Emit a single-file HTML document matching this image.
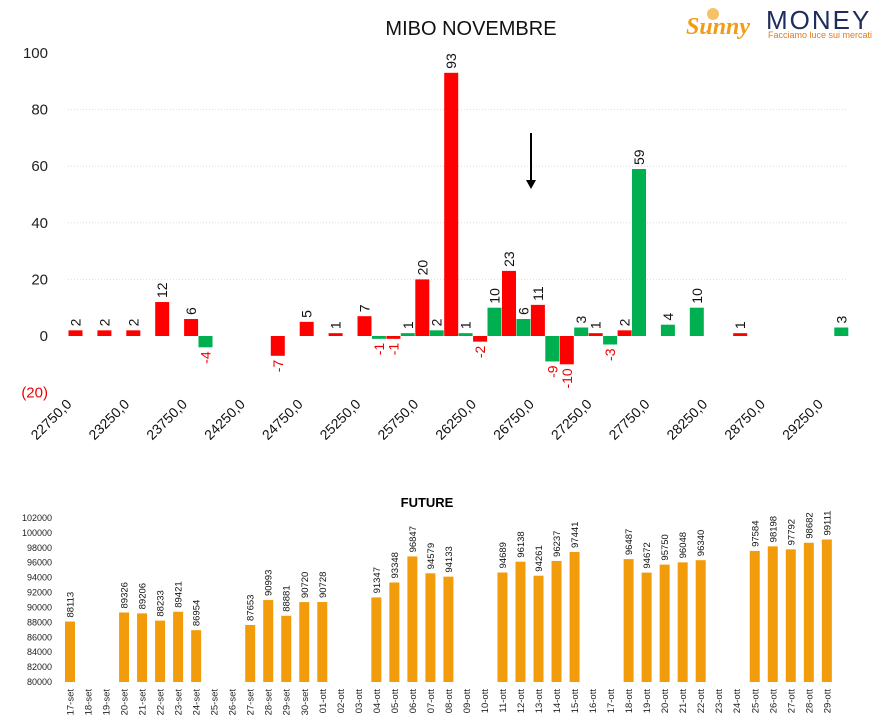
<!DOCTYPE html>
<html><head><meta charset="utf-8">
<style>
body{margin:0;background:#fff;}
svg{display:block;font-family:"Liberation Sans","DejaVu Sans",sans-serif;}
</style></head>
<body>
<svg id="c" width="887" height="724" viewBox="0 0 887 724" xmlns="http://www.w3.org/2000/svg">
<text x="471" y="35" font-size="20" text-anchor="middle" fill="#111">MIBO NOVEMBRE</text>
<g>
<circle cx="713" cy="14" r="6" fill="#f5a623" opacity="0.7"/>
<text x="686" y="34" font-size="24" font-style="italic" font-weight="bold" fill="#f39c12" font-family="Liberation Serif,serif">Sunny</text>
<text x="766" y="29" font-size="26" fill="#1f2d5c" letter-spacing="2">MONEY</text>
<text x="768" y="38" font-size="9" fill="#e07b1a">Facciamo luce sui mercati</text>
</g>
<g id="topg"></g>
<g id="botg"></g>
<text x="427" y="507" font-size="13" font-weight="bold" text-anchor="middle" fill="#000">FUTURE</text>
<g>
<line x1="531" y1="133" x2="531" y2="182" stroke="#000" stroke-width="2"/>
<polygon points="526,180 536,180 531,189" fill="#000"/>
</g>
</svg>
<script>
// ---- top chart data ----
const strikes = [22750,23000,23250,23500,23750,24000,24250,24500,24750,25000,25250,25500,25750,26000,26250,26500,26750,27000,27250,27500,27750,28000,28250,28500,28750,29000,29250,29500];
const greenVals = [null,null,null,null,null,-4,null,null,null,null,null,-1,1,2,1,10,6,-9,3,-3,59,4,10,null,null,null,null,3];
const redVals = [2,2,2,12,6,null,null,-7,5,1,7,-1,20,93,-2,23,11,-10,1,2,null,null,null,1,null,null,null,null];
const yTicks = [100,80,60,40,20,0,-20];
// ---- bottom chart data ----
const dates = ["17-set","18-set","19-set","20-set","21-set","22-set","23-set","24-set","25-set","26-set","27-set","28-set","29-set","30-set","01-ott","02-ott","03-ott","04-ott","05-ott","06-ott","07-ott","08-ott","09-ott","10-ott","11-ott","12-ott","13-ott","14-ott","15-ott","16-ott","17-ott","18-ott","19-ott","20-ott","21-ott","22-ott","23-ott","24-ott","25-ott","26-ott","27-ott","28-ott","29-ott"];
const futVals = [88113,null,null,89326,89206,88233,89421,86954,null,null,87653,90993,88881,90720,90728,null,null,91347,93348,96847,94579,94133,null,null,94689,96138,94261,96237,97441,null,null,96487,94672,95750,96048,96340,null,null,97584,98198,97792,98682,99111];
const futTicks = [102000,100000,98000,96000,94000,92000,90000,88000,86000,84000,82000,80000];

const NS="http://www.w3.org/2000/svg";
function mk(tag,attrs,parent,txt){const e=document.createElementNS(NS,tag);for(const k in attrs)e.setAttribute(k,attrs[k]);if(txt!==undefined)e.textContent=txt;parent.appendChild(e);return e;}

const topG=document.getElementById('topg');
const catW=28.9, x0=54;
const ty=v=>336-v*2.83;
const tx=i=>x0+i*catW;
yTicks.forEach(t=>{
  if(t>0&&t<100){const g=mk('line',{x1:68,x2:848,y1:ty(t),y2:ty(t),stroke:'#ddd','stroke-dasharray':'1,2'},topG);
  
  }
  const l=mk('text',{x:48,y:ty(t)+5,'font-size':15,'text-anchor':'end',fill:t<0?'#e00':'#222'},topG,t<0?'('+(-t)+')':String(t));
  
  
});
function topBar(i,v,slot,color){
  if(v===null)return;
  const x=tx(i)+slot*14.5, w=14;
  const y=Math.min(ty(v),ty(0)), h=Math.max(Math.abs(ty(v)-ty(0)),2);
  const r=mk('rect',{x:x,y:y,width:w,height:h,fill:color},topG);
  
  
  const cx=x+w/2+5;
  let t;
  if(v>=0){t=mk('text',{transform:`translate(${cx},${y-4}) rotate(-90)`,'font-size':14,fill:'#111'},topG,String(v));}
  else{t=mk('text',{transform:`translate(${cx},${y+h+4}) rotate(-90)`,'font-size':14,fill:'#e00','text-anchor':'end'},topG,String(v));}
  
  
}
strikes.forEach((s,i)=>{
  topBar(i,greenVals[i],0,'#00b050');
  topBar(i,redVals[i],1,'#ff0000');
  if(i%2===0){
    const cx=tx(i)+catW/2+4;
    const t=mk('text',{transform:`translate(${cx},405) rotate(-45)`,'font-size':14,fill:'#111','text-anchor':'end'},topG,s+',0');
    
    
  }
});

const botG=document.getElementById('botg');
const by=v=>682-(v-80000)*164/22000;
const bx=i=>70+i*18.02;
futTicks.forEach(t=>{
  const l=mk('text',{x:52,y:by(t)+3,'font-size':9,'text-anchor':'end',fill:'#222'},botG,String(t));
  
  
});
dates.forEach((d,i)=>{
  const cx=bx(i);
  const v=futVals[i];
  if(v!==null){
    const r=mk('rect',{x:cx-5,y:by(v),width:10,height:682-by(v),fill:'#f39c0b'},botG);
    
    
    const t=mk('text',{transform:`translate(${cx+3.5},${by(v)-4}) rotate(-90)`,'font-size':9.5,fill:'#111'},botG,String(v));
    
    
  }
  const l=mk('text',{transform:`translate(${cx+3.5},689) rotate(-90)`,'font-size':9.5,fill:'#222','text-anchor':'end'},botG,d);
  
  
});
</script>
</body></html>
